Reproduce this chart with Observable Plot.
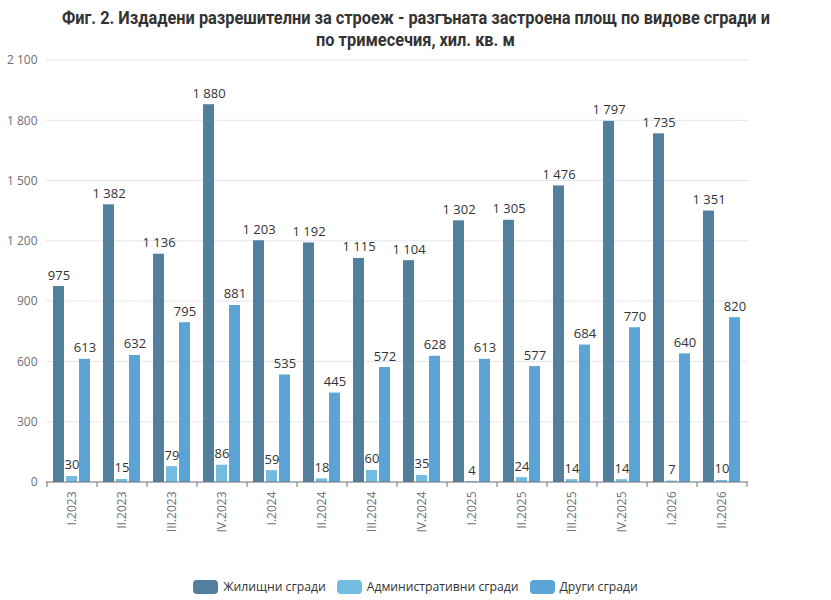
<!DOCTYPE html>
<html><head><meta charset="utf-8">
<script src="https://cdn.jsdelivr.net/npm/d3@7"></script>
<script src="https://cdn.jsdelivr.net/npm/@observablehq/plot@0.6"></script>
<style>
body{margin:0;background:#fff;width:831px;font-family:"Open Sans","Noto Sans",sans-serif}
#title{box-sizing:border-box;height:51px;padding-top:7px;text-align:center;font-family:Roboto,"Noto Sans",sans-serif;font-weight:bold;font-size:18px;line-height:22px;color:#333;white-space:nowrap}
#title span{display:inline-block;transform-origin:50% 50%}
#legend{display:flex;justify-content:center;align-items:center;margin-top:7px;font-size:12.2px;color:#333}
#legend .item{display:flex;align-items:center;margin:0 5.5px}
#legend .sw{width:25px;height:14px;border-radius:4px;margin-right:5px}
</style></head><body>
<div id="title"><span id="t1">Фиг. 2. Издадени разрешителни за строеж - разгъната застроена площ по видове сгради и</span><br><span id="t2">по тримесечия, хил. кв. м</span></div>
<div id="chart"></div>
<div id="legend"></div>
<script>
const quarters = ["I.2023","II.2023","III.2023","IV.2023","I.2024","II.2024","III.2024","IV.2024","I.2025","II.2025","III.2025","IV.2025","I.2026","II.2026"];
const series = ["Жилищни сгради","Административни сгради","Други сгради"];
const residential = [975,1382,1136,1880,1203,1192,1115,1104,1302,1305,1476,1797,1735,1351];
const administrative = [30,15,79,86,59,18,60,35,4,24,14,14,7,10];
const other = [613,632,795,881,535,445,572,628,613,577,684,770,640,820];
const colors = ["#537f9e","#73bbe0","#5ca3d6"];
const yTicks = [0,300,600,900,1200,1500,1800,2100];

// condense the title to the reference width
const t1 = document.getElementById("t1"), t2 = document.getElementById("t2");
const k = 708 / t1.getBoundingClientRect().width;
t1.style.transform = `scaleX(${k})`;
t2.style.transform = `scaleX(${k})`;

const data = quarters.flatMap((q,i)=>[
  {quarter:q, series:series[0], value:residential[i]},
  {quarter:q, series:series[1], value:administrative[i]},
  {quarter:q, series:series[2], value:other[i]}
]);
const fmt = d3.formatLocale({decimal:",",thousands:" ",grouping:[3],currency:["",""]}).format(",d");

const plot = Plot.plot({
  width:831, height:520, marginTop:9, marginLeft:46, marginRight:83, marginBottom:89,
  style:{fontFamily:'"Open Sans","Noto Sans",sans-serif', fontSize:"12px", color:"#6e7079", background:"#fff"},
  fx:{domain:quarters, paddingInner:0.24, paddingOuter:0.12, label:null, tickRotate:-90, tickSize:0, tickPadding:9},
  x:{domain:series, paddingInner:0.15, paddingOuter:0, axis:null},
  y:{domain:[0,2100], ticks:yTicks, tickFormat:fmt, label:null, tickSize:0, tickPadding:16},
  color:{domain:series, range:colors},
  marks:[
    Plot.barY(data,{fx:"quarter", x:"series", y:"value", fill:"series"}),
    Plot.text(data,{fx:"quarter", x:"series", y:"value", text:d=>fmt(d.value), dy:-7, lineAnchor:"bottom", fill:"#333", fontSize:13})
  ]
});
document.getElementById("chart").appendChild(plot);

// full-width grid, baseline and boundary ticks from the plot's own scales
const fx = plot.scale("fx"), y = plot.scale("y");
const svg = d3.select(plot);
const x0 = fx.range[0], x1 = fx.range[1];
const g = svg.insert("g", ":first-child");
g.selectAll("line").data(yTicks.filter(t=>t>0)).join("line")
  .attr("x1",x0).attr("x2",x1).attr("y1",t=>y.apply(t)).attr("y2",t=>y.apply(t))
  .attr("stroke","#e0e6f1");
const g2 = svg.append("g");
const yb = y.apply(0);
g2.append("line").attr("x1",x0).attr("x2",x1).attr("y1",yb).attr("y2",yb).attr("stroke","#6e7079");
const off = (fx.step - fx.bandwidth)/2;
const bounds = quarters.map(q=>fx.apply(q)-off).concat([fx.apply(quarters[quarters.length-1])+fx.bandwidth+off]);
g2.selectAll("line.tk").data(bounds).join("line")
  .attr("x1",b=>b).attr("x2",b=>b).attr("y1",yb).attr("y2",yb+5).attr("stroke","#6e7079");

const legend = d3.select("#legend");
series.forEach((s,i)=>{
  const it = legend.append("div").attr("class","item");
  it.append("div").attr("class","sw").style("background",colors[i]);
  it.append("span").text(s);
});
</script>
</body></html>
